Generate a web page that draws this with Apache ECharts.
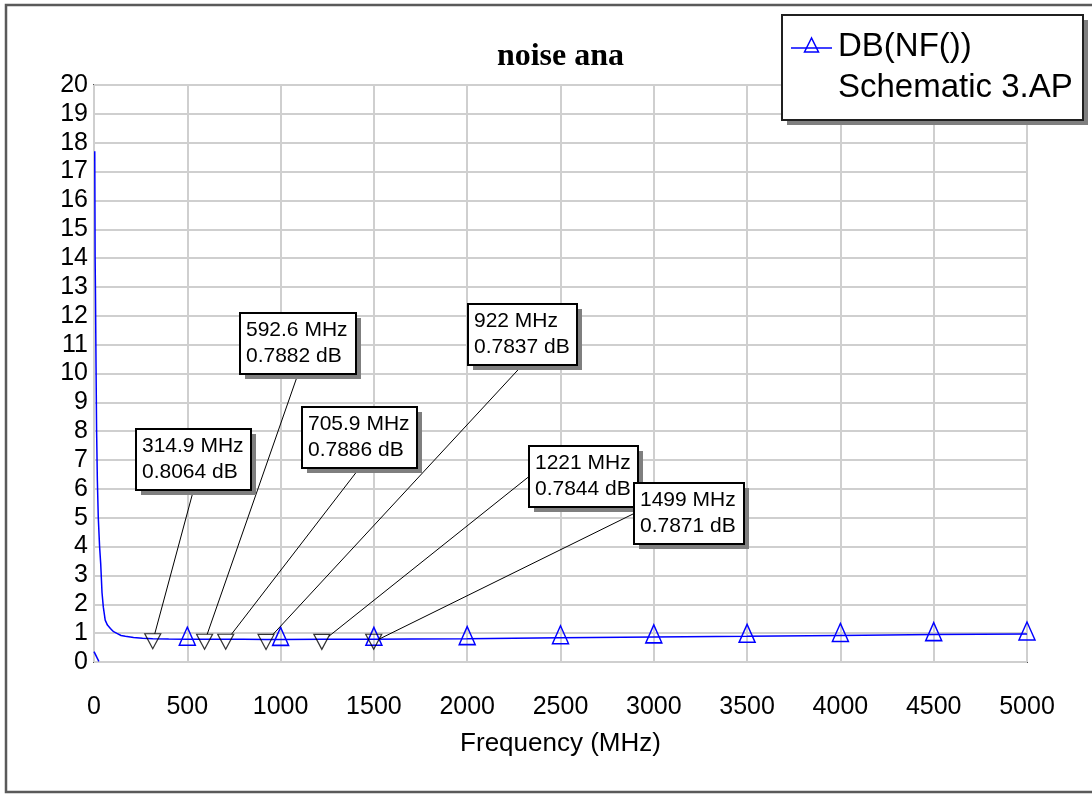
<!DOCTYPE html>
<html>
<head>
<meta charset="utf-8">
<title>noise ana</title>
<script src="https://cdn.jsdelivr.net/npm/echarts@6/dist/echarts.min.js"></script>
<style>
  html, body { margin: 0; padding: 0; background: #ffffff; }
  #chart { width: 1092px; height: 794px; }
</style>
</head>
<body>
<div id="chart"></div>
<script>
// Swept noise figure of the amplifier, DB(NF()) in dB against frequency in MHz
const freqMHz = [4, 6, 8, 11, 14, 18, 23, 30, 36, 43, 50, 60, 72, 88, 105, 123, 145, 168, 212, 260,
  314.9, 400, 500, 592.6, 705.9, 800, 922, 1000, 1221, 1350, 1499, 1500, 1700, 2000, 2500,
  3000, 3500, 4000, 4500, 5000];
const nfDb = [17.7, 14.0, 12.7, 10.2, 8.0, 6.3, 5.0, 4.0, 3.4, 2.4, 1.9, 1.45, 1.28, 1.16, 1.05, 0.99,
  0.92, 0.89, 0.85, 0.82, 0.8064, 0.795, 0.79, 0.7882, 0.7886, 0.786, 0.7837, 0.784, 0.7844,
  0.785, 0.7871, 0.7872, 0.80, 0.81, 0.84, 0.87, 0.89, 0.92, 0.95, 0.97];

// the first sweep points near DC, plotted as their own short trace
const stubFreqMHz = [0, 26];
const stubDb = [0.36, 0.02];

// symbols of the trace sit on every 500 MHz point
const traceSymbolStep = 500;

// markers placed on the trace
const markerFreqMHz = [314.9, 592.6, 705.9, 922, 1221, 1499];
const markerDb = [0.8064, 0.7882, 0.7886, 0.7837, 0.7844, 0.7871];

// axis ranges and tick labels
const xTicksMHz = [0, 500, 1000, 1500, 2000, 2500, 3000, 3500, 4000, 4500, 5000];
const yTicksDb = [0, 1, 2, 3, 4, 5, 6, 7, 8, 9, 10, 11, 12, 13, 14, 15, 16, 17, 18, 19, 20];

const seriesName = 'DB(NF())';
const seriesSource = 'Schematic 3.AP';
const chartTitle = 'noise ana';
const xAxisName = 'Frequency (MHz)';

// marker readout boxes: top-left corner, width, and which side the leader leaves from
const readoutLayout = [
  { x: 136, y: 429, w: 115, side: 'bottom' },
  { x: 240, y: 313, w: 116, side: 'bottom' },
  { x: 302, y: 407, w: 115, side: 'bottom' },
  { x: 468, y: 304, w: 109, side: 'bottom' },
  { x: 529, y: 446, w: 109, side: 'left' },
  { x: 634, y: 483, w: 110, side: 'left' }
];
const readoutHeight = 61;

const BLUE = '#0000ff';
const SANS = '"Liberation Sans", Arial, sans-serif';

const chart = echarts.init(document.getElementById('chart'), null, { renderer: 'canvas', width: 1092, height: 794 });

const traceData = freqMHz.map((f, i) => {
  const onStep = f > 0 && f % traceSymbolStep === 0;
  return {
    value: [f, nfDb[i]],
    symbol: onStep ? 'triangle' : 'none'
  };
});

const GRID = { left: 94, right: 65, top: 85, bottom: 132 };

chart.setOption({
  animation: false,
  backgroundColor: '#ffffff',
  grid: {
    left: GRID.left, right: GRID.right, top: GRID.top, bottom: GRID.bottom,
    show: true, borderColor: '#505050', borderWidth: 2, backgroundColor: 'transparent'
  },
  xAxis: {
    type: 'value',
    min: xTicksMHz[0], max: xTicksMHz[xTicksMHz.length - 1],
    interval: xTicksMHz[1] - xTicksMHz[0],
    name: xAxisName, nameLocation: 'middle', nameGap: 69,
    nameTextStyle: { fontFamily: SANS, fontSize: 26, color: '#000' },
    axisLine: { show: false },
    axisTick: { show: false },
    axisLabel: { fontFamily: SANS, fontSize: 25, color: '#000', margin: 33, formatter: v => String(v) },
    splitLine: { show: true, lineStyle: { color: '#cfcfcf', width: 2 } }
  },
  yAxis: {
    type: 'value',
    min: yTicksDb[0], max: yTicksDb[yTicksDb.length - 1],
    interval: yTicksDb[1] - yTicksDb[0],
    axisLine: { show: false },
    axisTick: { show: false },
    axisLabel: { fontFamily: SANS, fontSize: 25, color: '#000', margin: 6, formatter: v => String(v) },
    splitLine: { show: true, lineStyle: { color: '#cfcfcf', width: 2 } }
  },
  series: [
    {
      name: seriesName,
      type: 'line',
      data: traceData,
      showSymbol: true,
      symbolSize: [16, 18],
      symbolOffset: [0, -3],
      itemStyle: { color: 'rgba(255,255,255,0)', borderColor: BLUE, borderWidth: 1.5 },
      lineStyle: { color: BLUE, width: 1.5 },
      clip: true,
      z: 3
    },
    {
      name: seriesName + ' dc',
      type: 'line',
      data: stubFreqMHz.map((f, i) => [f, stubDb[i]]),
      symbol: 'none',
      lineStyle: { color: BLUE, width: 1.5 },
      clip: true,
      z: 3
    },
    {
      name: 'markers',
      type: 'scatter',
      data: markerFreqMHz.map((f, i) => [f, markerDb[i]]),
      symbol: 'triangle',
      symbolRotate: 180,
      symbolSize: [16, 15],
      symbolOffset: [0, 2.5],
      itemStyle: { color: 'rgba(255,255,255,0)', borderColor: '#000', borderWidth: 1.2 },
      z: 5,
      silent: true
    }
  ]
});

// ---- annotations drawn in pixel space from the axes' own conversion ----
function clipToTriangle(ax, ay, cx, cy, w, h) {
  // inverted triangle: top edge at cy - h/2, apex at cy + h/2
  const top = cy - h / 2, bot = cy + h / 2;
  const edges = [
    [[cx - w / 2, top], [cx + w / 2, top]],
    [[cx + w / 2, top], [cx, bot]],
    [[cx, bot], [cx - w / 2, top]]
  ];
  let best = 1;
  const dx = cx - ax, dy = cy - ay;
  edges.forEach(([p, q]) => {
    const ex = q[0] - p[0], ey = q[1] - p[1];
    const den = dx * ey - dy * ex;
    if (Math.abs(den) < 1e-9) return;
    const t = ((p[0] - ax) * ey - (p[1] - ay) * ex) / den;
    const u = ((p[0] - ax) * dy - (p[1] - ay) * dx) / den;
    if (t >= 0 && t <= 1 && u >= 0 && u <= 1 && t < best) best = t;
  });
  return [ax + dx * best, ay + dy * best];
}

const graphics = [];

// outer frame
graphics.push({
  type: 'rect', shape: { x: 6, y: 5, width: 1100, height: 787 },
  style: { fill: 'transparent', stroke: '#5a5a5a', lineWidth: 2.5 }, z: 1, silent: true
});

// title
graphics.push({
  type: 'text', x: (GRID.left + 1092 - GRID.right) / 2, y: 57,
  style: {
    text: chartTitle, fill: '#000', align: 'center', verticalAlign: 'middle',
    font: 'bold 32px "Liberation Serif", "Times New Roman", serif'
  }, z: 20, silent: true
});

// legend box
const lg = { x: 782, y: 15, w: 301, h: 105 };
graphics.push({
  type: 'rect', shape: { x: lg.x + 5, y: lg.y + 5, width: lg.w, height: lg.h },
  style: { fill: '#7f7f7f' }, z: 30, silent: true
});
graphics.push({
  type: 'rect', shape: { x: lg.x, y: lg.y, width: lg.w, height: lg.h },
  style: { fill: '#ffffff', stroke: '#202020', lineWidth: 2 }, z: 31, silent: true
});
graphics.push({
  type: 'line', shape: { x1: lg.x + 9, y1: lg.y + 33, x2: lg.x + 50, y2: lg.y + 33 },
  style: { stroke: BLUE, lineWidth: 1.5 }, z: 32, silent: true
});
graphics.push({
  type: 'polygon',
  shape: { points: [[lg.x + 29.5, lg.y + 23], [lg.x + 22.5, lg.y + 37], [lg.x + 36.5, lg.y + 37]] },
  style: { fill: 'transparent', stroke: BLUE, lineWidth: 1.5 }, z: 32, silent: true
});
graphics.push({
  type: 'text', x: lg.x + 56, y: lg.y + 32,
  style: { text: seriesName, fill: '#000', font: '33px ' + SANS, verticalAlign: 'middle' },
  z: 32, silent: true
});
graphics.push({
  type: 'text', x: lg.x + 56, y: lg.y + 73,
  style: { text: seriesSource, fill: '#000', font: '33px ' + SANS, verticalAlign: 'middle' },
  z: 32, silent: true
});

// marker readouts with leader lines
markerFreqMHz.forEach((f, i) => {
  const box = readoutLayout[i];
  const p = chart.convertToPixel({ seriesIndex: 2 }, [f, markerDb[i]]);
  const cx = p[0], cy = p[1] + 2.5;
  const ax = box.side === 'left' ? box.x : box.x + box.w / 2;
  const ay = box.side === 'left' ? box.y + readoutHeight / 2 : box.y + readoutHeight;
  const end = clipToTriangle(ax, ay, cx, cy, 16, 15);
  graphics.push({
    type: 'line', shape: { x1: ax, y1: ay, x2: end[0], y2: end[1] },
    style: { stroke: '#000', lineWidth: 1 }, z: 4, silent: true
  });
  const zb = 40 + i * 3;
  graphics.push({
    type: 'rect', shape: { x: box.x + 5, y: box.y + 5, width: box.w, height: readoutHeight },
    style: { fill: '#7f7f7f' }, z: zb, silent: true
  });
  graphics.push({
    type: 'rect', shape: { x: box.x, y: box.y, width: box.w, height: readoutHeight },
    style: { fill: '#ffffff', stroke: '#000', lineWidth: 2 }, z: zb + 1, silent: true
  });
  graphics.push({
    type: 'text', x: box.x + 6, y: box.y + 17,
    style: { text: f + ' MHz', fill: '#000', font: '21px ' + SANS, verticalAlign: 'middle' },
    z: zb + 2, silent: true
  });
  graphics.push({
    type: 'text', x: box.x + 6, y: box.y + 43,
    style: { text: markerDb[i] + ' dB', fill: '#000', font: '21px ' + SANS, verticalAlign: 'middle' },
    z: zb + 2, silent: true
  });
});

chart.setOption({ graphic: { elements: graphics } });
</script>
</body>
</html>
